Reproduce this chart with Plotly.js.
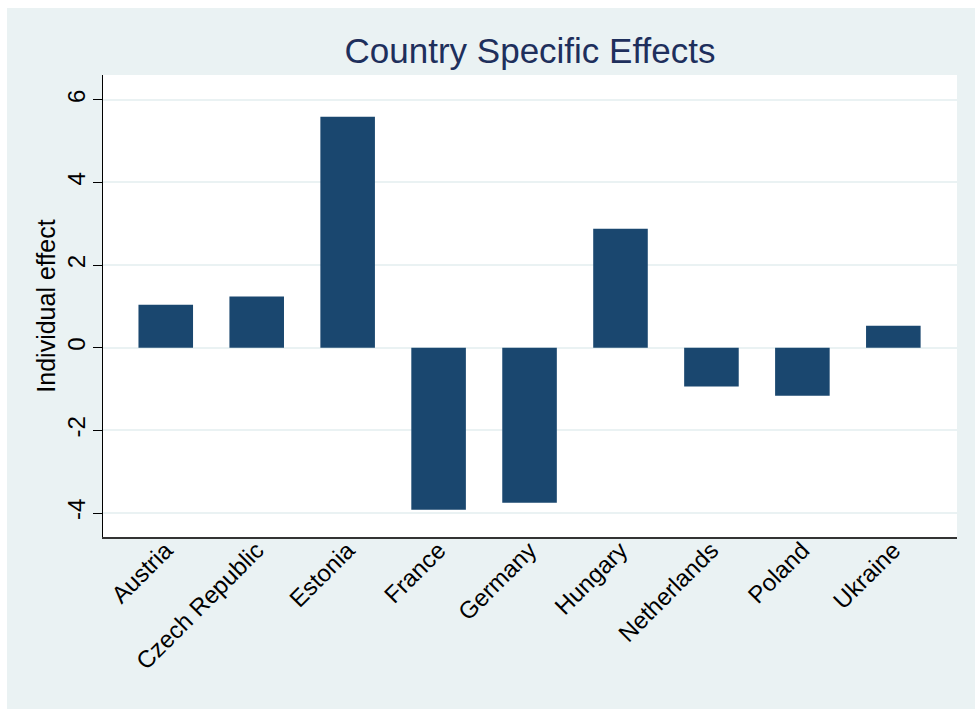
<!DOCTYPE html>
<html>
<head>
<meta charset="utf-8">
<script src="https://cdn.plot.ly/plotly-3.0.1.min.js"></script>
<style>
  html, body { margin: 0; padding: 0; background: #ffffff; width: 975px; height: 709px; overflow: hidden; }
  #chart { position: absolute; left: 7px; top: 8px; width: 968px; height: 701px; }
</style>
</head>
<body>
<div id="chart"></div>
<script>
const countries = ["Austria", "Czech Republic", "Estonia", "France", "Germany", "Hungary", "Netherlands", "Poland", "Ukraine"];
const effects = [1.04, 1.24, 5.59, -3.92, -3.75, 2.88, -0.94, -1.16, 0.53];
const yTicks = [-4, -2, 0, 2, 4, 6];

const trace = {
  type: "bar",
  x: countries,
  y: effects,
  width: 0.6,
  marker: { color: "#1a476f", line: { width: 0 } },
  hoverinfo: "x+y"
};

const layout = {
  width: 968,
  height: 701,
  paper_bgcolor: "#eaf2f3",
  plot_bgcolor: "#ffffff",
  margin: { l: 96, r: 18, t: 67, b: 172 },
  font: { family: "Liberation Sans, Arial, sans-serif", color: "#000000" },
  title: {
    text: "Country Specific Effects",
    font: { size: 35, color: "#1e2f5c", family: "Liberation Sans, Arial, sans-serif" },
    x: 0.5, xref: "paper", xanchor: "center",
    y: 1 - 42.5 / 701, yref: "container", yanchor: "middle"
  },
  showlegend: false,
  xaxis: {
    type: "category",
    range: [-0.69, 8.70],
    tickangle: -45,
    tickfont: { size: 24, color: "#000000" },
    ticklabelstandoff: -12,
    showline: true,
    linecolor: "#333333",
    linewidth: 1.5,
    ticks: "",
    showgrid: false,
    zeroline: false
  },
  yaxis: {
    range: [-4.58, 6.6],
    tickvals: yTicks,
    ticktext: yTicks.map(String),
    tickangle: -90,
    tickfont: { size: 24, color: "#000000" },
    ticks: "outside",
    ticklen: 9,
    tickwidth: 1.3,
    tickcolor: "#000000",
    ticklabelstandoff: -2,
    showline: true,
    linecolor: "#000000",
    linewidth: 1.3,
    showgrid: true,
    gridcolor: "#eaf2f3",
    gridwidth: 1.5,
    zeroline: false,
    title: {
      text: "Individual effect",
      font: { size: 25, color: "#000000" },
      standoff: 0
    }
  }
};

Plotly.newPlot("chart", [trace], layout, { displayModeBar: false });
</script>
</body>
</html>
